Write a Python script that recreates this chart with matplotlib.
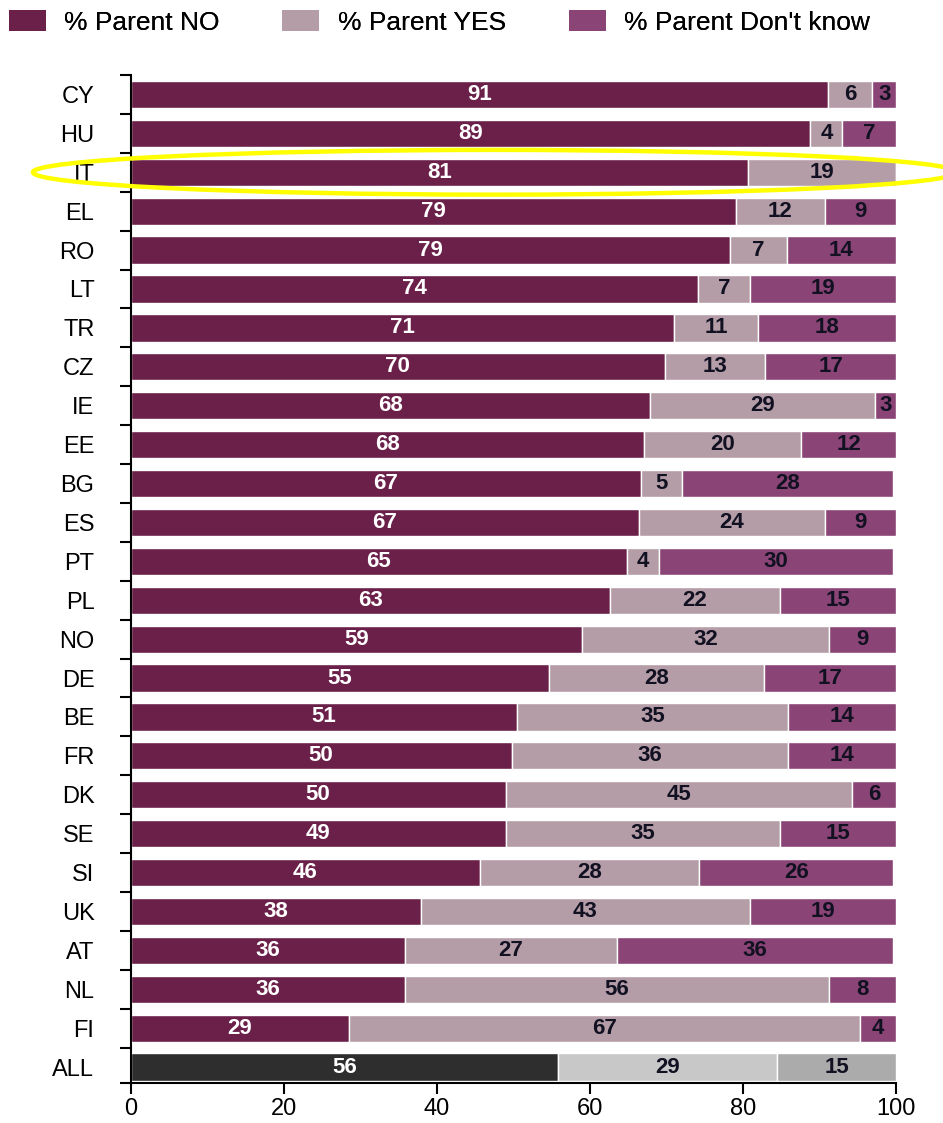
import matplotlib.pyplot as plt
from matplotlib.patches import Ellipse, Patch
import numpy as np

plt.rcParams['font.family'] = ['Liberation Sans', 'DejaVu Sans']

# Countries, top to bottom
countries = ["CY", "HU", "IT", "EL", "RO", "LT", "TR", "CZ", "IE", "EE", "BG", "ES", "PT",
             "PL", "NO", "DE", "BE", "FR", "DK", "SE", "SI", "UK", "AT", "NL", "FI", "ALL"]

# Bar lengths
parent_no = [91.1, 88.8, 80.7, 79.1, 78.3, 74.1, 71.0, 69.8, 67.9, 67.1, 66.7, 66.4, 64.8,
             62.6, 59.0, 54.7, 50.5, 49.8, 49.0, 49.0, 45.6, 37.9, 35.8, 35.8, 28.5, 55.9]
parent_yes = [5.8, 4.2, 19.3, 11.6, 7.4, 6.8, 11.0, 13.1, 29.4, 20.5, 5.3, 24.3, 4.3,
              22.2, 32.2, 28.0, 35.4, 36.1, 45.3, 35.8, 28.7, 43.0, 27.8, 55.4, 66.8, 28.6]
parent_dk = [3.1, 7.0, 0.0, 9.3, 14.3, 19.1, 18.0, 17.1, 2.7, 12.4, 27.6, 9.3, 30.5,
             15.2, 8.8, 17.3, 14.1, 14.1, 5.7, 15.2, 25.3, 19.1, 36.0, 8.8, 4.7, 15.5]

# Printed labels
lab_no = [91, 89, 81, 79, 79, 74, 71, 70, 68, 68, 67, 67, 65, 63, 59, 55, 51, 50, 50, 49, 46, 38, 36, 36, 29, 56]
lab_yes = [6, 4, 19, 12, 7, 7, 11, 13, 29, 20, 5, 24, 4, 22, 32, 28, 35, 36, 45, 35, 28, 43, 27, 56, 67, 29]
lab_dk = [3, 7, 0, 9, 14, 19, 18, 17, 3, 12, 28, 9, 30, 15, 9, 17, 14, 14, 6, 15, 26, 19, 36, 8, 4, 15]

legend_labels = ["% Parent NO", "% Parent YES", "% Parent Don't know"]

c_no, c_yes, c_dk = "#6B2049", "#B59DA8", "#8B4476"
g_no, g_yes, g_dk = "#2E2E2E", "#C8C8C8", "#ABABAB"

n = len(countries)
y = np.arange(n)
no = np.array(parent_no)
yes = np.array(parent_yes)
dk = np.array(parent_dk)

col_no = [c_no] * (n - 1) + [g_no]
col_yes = [c_yes] * (n - 1) + [g_yes]
col_dk = [c_dk] * (n - 1) + [g_dk]

fig = plt.figure(figsize=(9.43, 11.23), dpi=100)
ax = fig.add_axes([0.1384, 0.0356, 0.8118, 0.8976])

h = 0.70
ax.barh(y, no, height=h, color=col_no, edgecolor="white", linewidth=1)
ax.barh(y, yes, left=no, height=h, color=col_yes, edgecolor="white", linewidth=1)
ax.barh(y, dk, left=no + yes, height=h, color=col_dk, edgecolor="white", linewidth=1)

# value labels
for i in range(n):
    ax.text(no[i] / 2, y[i], str(lab_no[i]), ha="center", va="center",
            fontsize=16, fontweight="bold", color="white")
    ax.text(no[i] + yes[i] / 2, y[i], str(lab_yes[i]), ha="center", va="center",
            fontsize=16, fontweight="bold", color="#111122")
    if lab_dk[i] > 0:
        ax.text(no[i] + yes[i] + dk[i] / 2, y[i], str(lab_dk[i]), ha="center", va="center",
                fontsize=16, fontweight="bold", color="#111122")

ax.set_xlim(0, 100)
ax.set_ylim(n - 0.59, -0.5)
ax.set_xticks([0, 20, 40, 60, 80, 100])
ax.set_yticks(y)
ax.set_yticklabels(countries)
ax.set_yticks(list(np.arange(n) - 0.5) + [n - 0.59], minor=True)
ax.tick_params(axis="y", which="major", length=0, pad=26, labelsize=17)
ax.tick_params(axis="y", which="minor", length=8, width=1.5, direction="out")
ax.tick_params(axis="x", which="major", length=8, width=1.5, direction="out",
               pad=3, labelsize=17)
for s in ["top", "right"]:
    ax.spines[s].set_visible(False)
ax.spines["left"].set_linewidth(1.5)
ax.spines["bottom"].set_linewidth(1.5)

# highlight around IT
ell = Ellipse((47.6, 2.0), 120.7, 1.15, fill=False, edgecolor="#FFFF00",
              linewidth=3.2, clip_on=False, zorder=5)
ax.add_patch(ell)

# legend entries placed one by one across the top
leg_x = [-0.009, 0.281, 0.585]
for c, lab, lx in zip((c_no, c_yes, c_dk), legend_labels, leg_x):
    leg = fig.legend([Patch(facecolor=c)], [lab], loc="upper left",
                     bbox_to_anchor=(lx, 1.006), frameon=False, fontsize=19,
                     handlelength=1.4, handleheight=0.8, handletextpad=0.7,
                     borderaxespad=0.25)
    fig.add_artist(leg)

plt.savefig("out.png", dpi=100)
